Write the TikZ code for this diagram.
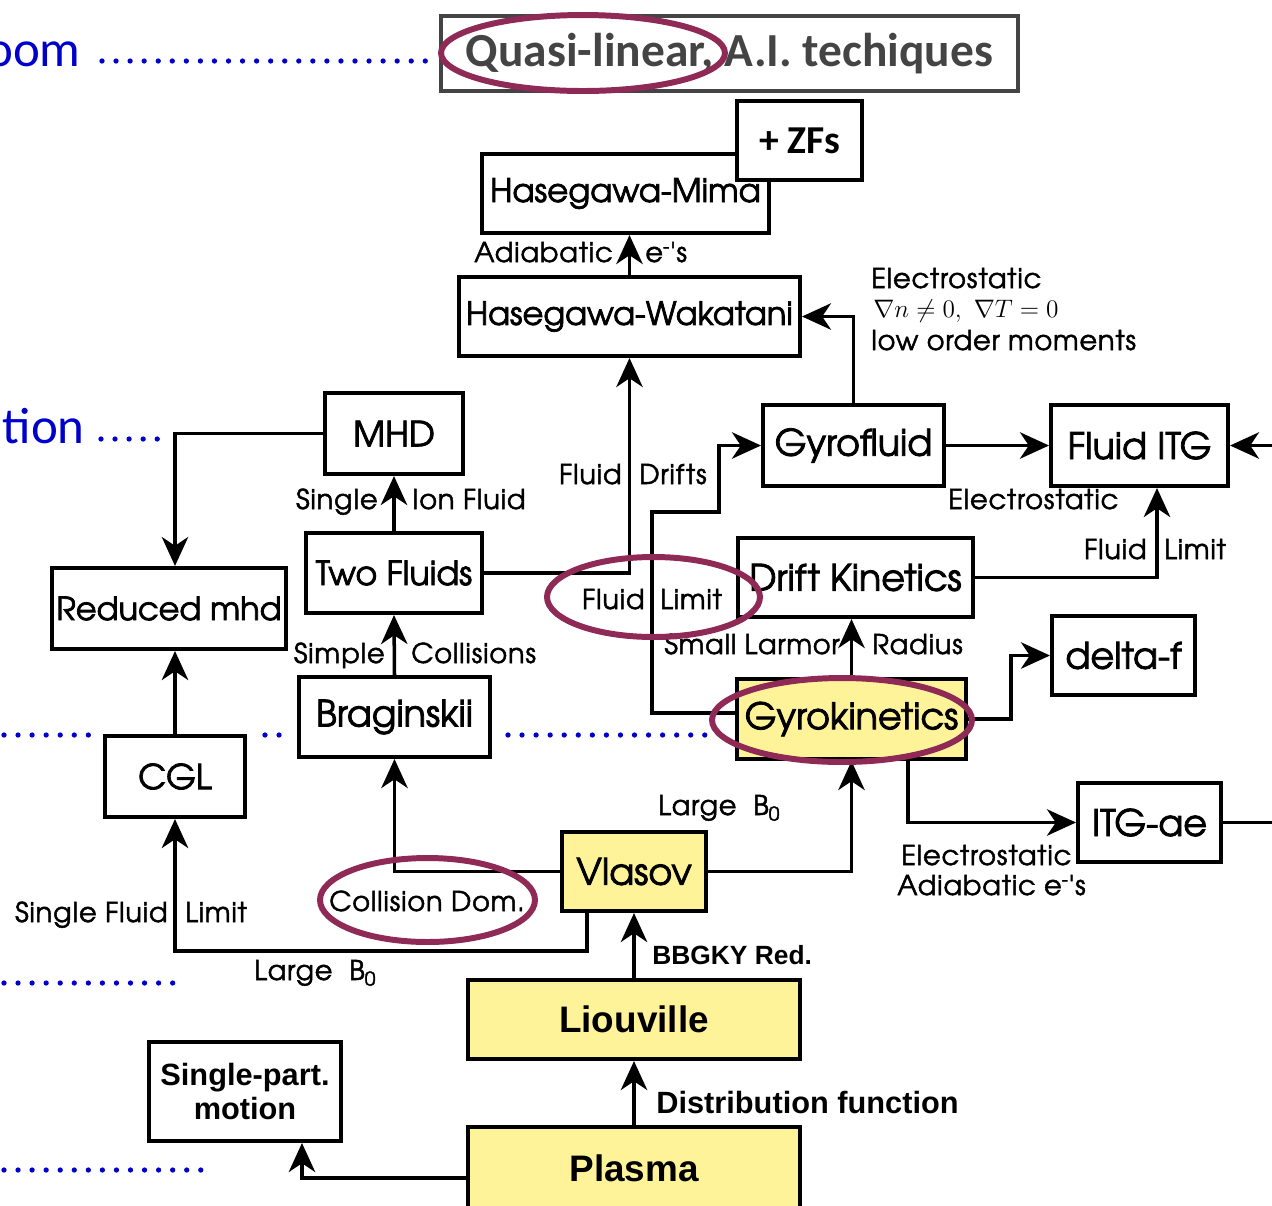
\documentclass[tikz,border=0pt]{standalone}
\usepackage{fontspec}
\usepackage{tikz}
\usetikzlibrary{arrows.meta,calc,positioning}
\newfontfamily\gothic{TeX Gyre Adventor}[FakeBold=2.2]
\newfontfamily\gothicnote{TeX Gyre Adventor}[FakeBold=1.8,LetterSpace=3]
\newfontfamily\helv{Liberation Sans}
\newfontfamily\calib{Carlito}
\definecolor{kyellow}{RGB}{255,243,153}
\definecolor{ringred}{RGB}{142,42,85}
\definecolor{levelblue}{RGB}{0,0,204}
\definecolor{framegray}{RGB}{68,68,68}
\tikzset{
chart/.style={x=0.02cm,y=-0.02cm,line join=miter},
model/.style={draw,line width=2.3pt,inner sep=0pt,minimum height=1.6cm,align=center,
font=\gothic\fontsize{20.8}{24}\selectfont},
kinetic/.style={model,fill=kyellow,font=\helv\bfseries\fontsize{21}{25}\selectfont},
flow/.style={-{Stealth[length=16.5pt,width=15pt,inset=5pt]},line width=2pt},
note/.style={inner sep=0pt,font=\gothicnote\fontsize{15.5}{18}\selectfont},
boldnote/.style={inner sep=0pt,font=\helv\bfseries\fontsize{#1}{#1}\selectfont},
boldnote/.default={17.5},
ring/.style={draw=ringred,line width=3.4pt},
dotrule/.style={levelblue,line width=3pt,line cap=round,dash pattern=on 0pt off 8pt},
}

\begin{document}
\begin{tikzpicture}[chart]
                \useasboundingbox (0,0) rectangle (1272,1205);

                % blue level markers
                \node[inner sep=0pt,anchor=base east,text=levelblue,font=\calib\fontsize{29}{34}\selectfont] (zoomtxt) at (81,66) {oom};
                \node[inner sep=0pt,anchor=base east,text=levelblue,font=\calib\fontsize{29}{34}\selectfont] (tiontxt) at (85,443) {tion};
                \draw[dotrule] (102,61) -- (435,61);
                \draw[dotrule] (101,439) -- (158,439);
                \draw[dotrule] (4,735) -- (98,735);
                \draw[dotrule] (265,735) -- (280,735);
                \draw[dotrule] (508,735) -- (718,735);
                \draw[dotrule] (4,983) -- (176,983);
                \draw[dotrule] (4,1170) -- (205,1170);

                % models
                \node[model,draw=framegray,text=framegray,minimum width=11.54cm,minimum height=1.5cm,
                font=\calib\bfseries\fontsize{27}{32}\selectfont] (quasi) at (729.5,53.5) {Quasi-linear, A.I. techiques};
                \node[model,minimum width=5.74cm,minimum height=1.58cm,font=\gothic\fontsize{18.5}{21}\selectfont] (hm) at (625.5,193.5) {Hasegawa-Mima};
                \node[model,fill=white,minimum width=2.5cm,minimum height=1.58cm,
                font=\calib\bfseries\fontsize{22.5}{26}\selectfont] (zf) at (799.5,140.5) {+ ZFs};
                \node[model,minimum width=6.82cm,minimum height=1.58cm,font=\gothic\fontsize{18.3}{21}\selectfont] (hw) at (629.5,316.5) {Hasegawa-Wakatani};
                \node[model,minimum width=2.76cm,minimum height=1.62cm,font=\gothic\fontsize{19.8}{23}\selectfont] (mhd) at (394,433.5) {MHD};
                \node[model,minimum width=4.68cm,minimum height=1.62cm,font=\gothic\fontsize{18.2}{21}\selectfont] (redmhd) at (169,608.5) {Reduced mhd};
                \node[model,minimum width=3.52cm,font=\gothic\fontsize{19}{22}\selectfont] (twofl) at (394,573) {Two Fluids};
                \node[model,minimum width=3.82cm] (brag) at (394.5,717) {Braginskii};
                \node[model,minimum width=2.8cm,minimum height=1.62cm,font=\gothic\fontsize{19.5}{23}\selectfont] (cgl) at (175,776.5) {CGL};
                \node[model,minimum width=3.62cm,minimum height=1.62cm] (gyrofl) at (853.5,445.5) {Gyrofluid};
                \node[model,minimum width=3.54cm,minimum height=1.62cm] (fitg) at (1139.5,445.5) {Fluid ITG};
                \node[model,minimum width=4.7cm,minimum height=1.58cm] (dk) at (855.5,577.5) {Drift Kinetics};
                \node[model,fill=kyellow,minimum width=4.58cm] (gk) at (851.5,719) {Gyrokinetics};
                \node[model,minimum width=2.86cm,minimum height=1.58cm] (deltaf) at (1123.5,655.5) {delta-f};
                \node[model,minimum width=2.86cm,minimum height=1.58cm] (itgae) at (1149.5,822.5) {ITG-ae};
                \node[model,fill=kyellow,minimum width=2.88cm,minimum height=1.58cm] (vlasov) at (634,871.5) {Vlasov};
                \node[kinetic,minimum width=6.64cm,minimum height=1.58cm] (liou) at (634,1019.5) {Liouville};
                \node[kinetic,minimum width=6.64cm,minimum height=1.64cm] (plasma) at (634,1168) {Plasma};
                \node[model,minimum width=3.84cm,minimum height=1.98cm,font=\helv\bfseries\fontsize{17.5}{19.5}\selectfont] (spm) at (245,1091.5) {Single-part.\\motion};

                % reductions
                \draw[flow] (hw.north) -- (hw.north |- hm.south);
                \draw[flow] (gyrofl.north) |- (hw.east);
                \draw[flow] (twofl.east) -| (hw.south);
                \draw[flow] (mhd.west) -| (cgl.north |- redmhd.north);
                \draw[flow] (twofl.north) -- (mhd.south);
                \draw[flow] (brag.north) -- (twofl.south);
                \draw[flow] (cgl.north) -- (cgl.north |- redmhd.south);
                \draw[flow] (gyrofl.east) -- (fitg.west);
                \draw[flow] (itgae.east) -- ++(70,0) |- (fitg.east);
                \draw[flow] (dk.east) -| ([xshift=0.35cm]fitg.south);
                \draw[flow] (gk.north) -- (gk.north |- dk.south);
                \draw[flow] ([yshift=0.12cm]gk.west) -- ++(-83,0) |- (719,512) |- (gyrofl.west);
                \draw[flow] (gk.east) -- ++(43,0) |- (deltaf.west);
                \draw[flow] ([xshift=1.13cm]gk.south) |- (itgae.west);
                \draw[flow] (vlasov.east) -| (gk.south);
                \draw[flow] (vlasov.west) -| (brag.south);
                \draw[flow] ([xshift=-0.94cm]vlasov.south) -- ++(0,38) -| (cgl.south);
                \draw[flow] (liou.north) -- (vlasov.south);
                \draw[flow] (plasma.north) -- (liou.south);
                \draw[flow] ([yshift=-0.2cm]plasma.west) -| ([xshift=1.14cm]spm.south);

                % labels
                \node[note,anchor=base east] (adia) at (613,262) {Adiabatic};
                \node[note,anchor=base west] (adie) at (645,262) {e\textsuperscript{-}'s};
                \node[note,anchor=base west] (es1) at (871,288) {Electrostatic};
                \node[inner sep=0pt,anchor=base west,font=\fontsize{13.5}{16}\selectfont] (grad) at (873,317) {$\nabla n\neq 0,\ \nabla T=0$};
                \node[note,anchor=base west] (lom) at (871,350) {low order moments};
                \node[note,anchor=base east] (fd1) at (622,484) {Fluid};
                \node[note,anchor=base west] (fd2) at (639,484) {Drifts};
                \node[note,anchor=base east] (sif1) at (378,509) {Single};
                \node[note,anchor=base west] (sif2) at (412,509) {Ion Fluid};
                \node[note,anchor=base east] (sc1) at (385,663) {Simple};
                \node[note,anchor=base west] (sc2) at (411,663) {Collisions};
                \node[note,anchor=base west] (es2) at (948,509) {Electrostatic};
                \node[note,anchor=base east] (fl1) at (1147,559) {Fluid};
                \node[note,anchor=base west] (fl2) at (1164,559) {Limit};
                \node[note,anchor=base east] (fl3) at (645,609) {Fluid};
                \node[note,anchor=base west] (fl4) at (660,609) {Limit};
                \node[note,anchor=base east] (slr1) at (840,654) {Small Larmor};
                \node[note,anchor=base west] (slr2) at (872,654) {Radius};
                \node[note,anchor=base west] (lb1) at (658,815) {Large\ \ B\textsubscript{0}};
                \node[note,anchor=base west] (es3) at (901,865) {Electrostatic};
                \node[note,anchor=base west] (adi2) at (897,895) {Adiabatic e\textsuperscript{-}'s};
                \node[note,anchor=base] (cdom) at (427,911) {Collision Dom.};
                \node[note,anchor=base east] (sfl1) at (168,922) {Single Fluid};
                \node[note,anchor=base west] (sfl2) at (185,922) {Limit};
                \node[note,anchor=base west] (lb2) at (254,980) {Large\ \ B\textsubscript{0}};
                \node[boldnote=15,anchor=base west] (bbgky) at (652,964) {BBGKY Red.};
                \node[boldnote,anchor=base west] (distf) at (656,1113) {Distribution function};

                % highlights
                \draw[ring] (583,53) ellipse [x radius=2.84cm,y radius=0.76cm];
                \draw[ring] (653.5,597) ellipse [x radius=2.13cm,y radius=0.8cm];
                \draw[ring] (842,720) ellipse [x radius=2.6cm,y radius=0.84cm];
                \draw[ring] (427.5,900) ellipse [x radius=2.15cm,y radius=0.84cm];
\end{tikzpicture}
\end{document}
